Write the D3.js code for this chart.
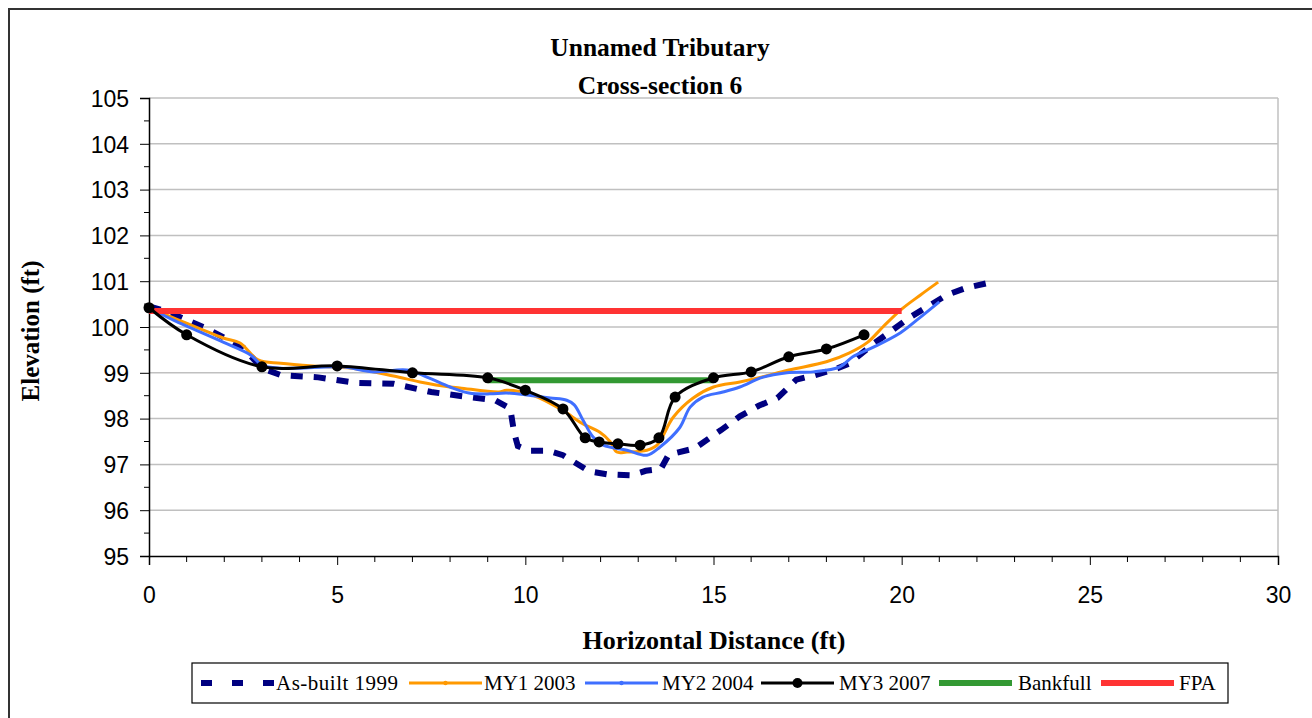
<!DOCTYPE html>
<html><head><meta charset="utf-8">
<script src="https://cdn.jsdelivr.net/npm/d3@7"></script>
<style>body{margin:0;background:#fff}svg{display:block}</style>
</head><body>
<svg id="c" width="1312" height="718"></svg>
<script>
const asBuiltX = [0,0.5,1.5,2.5,3.0,3.5,4.5,5.5,6.5,7.5,8.5,9.2,9.6,9.7,9.8,10.1,10.6,11.0,11.3,11.7,12.2,12.8,13.2,13.6,13.8,14.0,14.5,15.2,15.7,16.2,16.7,17.2,17.7,18.3,18.6,19.2,19.7,20.2,20.7,21.2,21.7,22.4];
const asBuiltY = [100.45,100.33,99.98,99.55,99.1,98.95,98.9,98.78,98.76,98.58,98.47,98.4,98.22,97.7,97.4,97.3,97.3,97.2,97.05,96.85,96.78,96.76,96.86,96.9,97.2,97.25,97.35,97.75,98.05,98.28,98.45,98.85,98.95,99.1,99.2,99.6,99.9,100.2,100.45,100.7,100.85,100.98];
const my1X = [0,0.65,1.97,2.42,2.9,3.5,4.36,5.4,6.5,7.2,8.0,8.26,9.3,9.5,10.2,10.97,11.5,11.98,12.25,12.43,12.7,13.23,13.5,13.93,14.46,15.0,15.7,16.24,17.0,18.0,18.6,19.1,19.5,20.0,20.5,20.97];
const my1Y = [100.42,100.2,99.76,99.65,99.28,99.21,99.15,99.1,98.93,98.8,98.69,98.67,98.58,98.62,98.51,98.19,97.9,97.7,97.5,97.27,97.27,97.31,97.42,98.03,98.45,98.69,98.8,98.9,99.06,99.24,99.43,99.67,100.0,100.39,100.7,100.98];
const my2X = [0,0.65,1.97,2.7,3.0,3.5,4.0,5.1,6.0,6.85,7.4,8.0,8.5,9.06,9.5,10.1,10.66,11.1,11.3,11.53,11.8,12.07,12.7,13.23,13.58,14.1,14.38,14.72,15.25,15.7,16.3,16.95,17.65,18.36,18.7,19.25,19.96,20.4,21.0];
const my2Y = [100.42,100.15,99.67,99.39,99.17,99.1,99.1,99.13,99.02,99.06,98.9,98.69,98.56,98.54,98.56,98.51,98.45,98.4,98.3,97.97,97.6,97.42,97.31,97.2,97.38,97.8,98.25,98.47,98.58,98.69,98.9,99.0,99.02,99.13,99.35,99.56,99.87,100.15,100.55];
const my3X = [0,1,3,5,7,9,10,11,11.59,11.96,12.46,13.05,13.55,13.98,15,16,17,18,19];
const my3Y = [100.42,99.83,99.13,99.15,99.0,98.89,98.62,98.21,97.58,97.49,97.45,97.42,97.58,98.47,98.89,99.02,99.35,99.52,99.83];
const bankfullX = [9,15];
const bankfullY = [98.84,98.84];
const fpaX = [0,20];
const fpaY = [100.35,100.35];
const xTicks = [0,5,10,15,20,25,30];
const yTicks = [95,96,97,98,99,100,101,102,103,104,105];
const titleLines = ["Unnamed Tributary","Cross-section 6"];
const legendNames = ["As-built 1999","MY1 2003","MY2 2004","MY3 2007","Bankfull","FPA"];

const svg = d3.select("#c");
const L=149,R=1278,T=98,B=556;
const x = d3.scaleLinear().domain([0,30]).range([L,R]);
const y = d3.scaleLinear().domain([95,105]).range([B,T]);
const zip=(a,b)=>a.map((v,i)=>[v,b[i]]);

// outer frame
svg.append("path").attr("d",`M9,718 L9,9 L1312,9`).attr("fill","none").attr("stroke","#333").attr("stroke-width",2);

// gridlines
svg.append("g").selectAll("line").data(yTicks.slice(1)).join("line")
 .attr("x1",L).attr("x2",R).attr("y1",d=>y(d)).attr("y2",d=>y(d)).attr("stroke","#c0c0c0").attr("stroke-width",1.5);
svg.append("line").attr("x1",R).attr("x2",R).attr("y1",T).attr("y2",B).attr("stroke","#c0c0c0").attr("stroke-width",1.5);

// axes
const yAxis = d3.axisLeft(y).tickValues(yTicks).tickSize(9).tickFormat(d3.format("d"));
const gy = svg.append("g").attr("transform",`translate(${L},0)`).call(yAxis);
const yMinor = d3.range(95.5,105,1);
svg.append("g").selectAll("line").data(yMinor).join("line").attr("x1",L-5).attr("x2",L).attr("y1",d=>y(d)).attr("y2",d=>y(d)).attr("stroke","#000");
const xAxis = d3.axisBottom(x).tickValues(xTicks).tickSize(9).tickPadding(22);
const gx = svg.append("g").attr("transform",`translate(0,${B})`).call(xAxis);
const xMinor = d3.range(0,31).filter(d=>d%5!==0);
svg.append("g").selectAll("line").data(xMinor).join("line").attr("x1",d=>x(d)).attr("x2",d=>x(d)).attr("y1",B).attr("y2",B+6).attr("stroke","#000");
[gx,gy].forEach(g=>{g.select(".domain").attr("stroke","#000").attr("stroke-width",1.5);
 g.selectAll(".tick line").attr("stroke","#000");
 g.selectAll("text").attr("font-family","Arial, 'Liberation Sans', sans-serif").attr("font-size",23).attr("fill","#000");});
gy.selectAll("text").attr("x",-20).attr("dy","0.36em");

// series
const straight = d3.line().x(d=>x(d[0])).y(d=>y(d[1]));
const smooth = d3.line().x(d=>x(d[0])).y(d=>y(d[1])).curve(d3.curveCatmullRom.alpha(0.5));
svg.append("path").attr("d",straight(zip(asBuiltX,asBuiltY))).attr("fill","none").attr("stroke","#000080").attr("stroke-width",6).attr("stroke-dasharray","12,11");
svg.append("path").attr("d",smooth(zip(my1X,my1Y))).attr("fill","none").attr("stroke","#FF9900").attr("stroke-width",3);
svg.append("path").attr("d",smooth(zip(my2X,my2Y))).attr("fill","none").attr("stroke","#3F6FFF").attr("stroke-width",3);
svg.append("path").attr("d",straight(zip(bankfullX,bankfullY))).attr("fill","none").attr("stroke","#339933").attr("stroke-width",6);
svg.append("path").attr("d",straight(zip(fpaX,fpaY))).attr("fill","none").attr("stroke","#FF3333").attr("stroke-width",6);
svg.append("path").attr("d",smooth(zip(my3X,my3Y))).attr("fill","none").attr("stroke","#000").attr("stroke-width",3);
svg.append("g").selectAll("circle").data(zip(my3X,my3Y)).join("circle").attr("cx",d=>x(d[0])).attr("cy",d=>y(d[1])).attr("r",5.5).attr("fill","#000");

// titles
const serif="'Liberation Serif','Times New Roman',serif";
svg.append("g").selectAll("text").data(titleLines).join("text").attr("x",660).attr("y",(d,i)=>56+i*38)
 .attr("text-anchor","middle").attr("font-family",serif).attr("font-weight","bold").attr("font-size",25.5).text(d=>d);
svg.append("text").attr("x",714).attr("y",649).attr("text-anchor","middle").attr("font-family",serif).attr("font-weight","bold").attr("font-size",26).text("Horizontal Distance (ft)");
svg.append("text").attr("transform","translate(39,331) rotate(-90)").attr("text-anchor","middle").attr("font-family",serif).attr("font-weight","bold").attr("font-size",25).text("Elevation (ft)");

// legend
const lg = svg.append("g");
lg.append("rect").attr("x",192).attr("y",663).attr("width",1036).attr("height",40).attr("fill","#fff").attr("stroke","#000").attr("stroke-width",1.2);
const sx=[201,409,585,761,939,1101], tx=[276,484,662,839,1018,1179];
const styles=[{c:"#000080",w:6,da:"11,20"},{c:"#FF9900",w:3,d:true},{c:"#3F6FFF",w:3,d:true},{c:"#000",w:3,m:true},{c:"#339933",w:6},{c:"#FF3333",w:6}];
legendNames.forEach((n,i)=>{
 const s=styles[i], ly=683;
 lg.append("line").attr("x1",sx[i]).attr("x2",sx[i]+73).attr("y1",ly).attr("y2",ly).attr("stroke",s.c).attr("stroke-width",s.w).attr("stroke-dasharray",s.da||null);
 if(s.m) lg.append("circle").attr("cx",sx[i]+36.5).attr("cy",ly).attr("r",5).attr("fill","#000");
 if(s.d) lg.append("circle").attr("cx",sx[i]+36.5).attr("cy",ly).attr("r",2.2).attr("fill",s.c);
 lg.append("text").attr("x",tx[i]).attr("y",ly+7).attr("font-family",serif).attr("font-size",21).attr("textLength",i===0?122:null).text(n);
});
</script>
</body></html>
